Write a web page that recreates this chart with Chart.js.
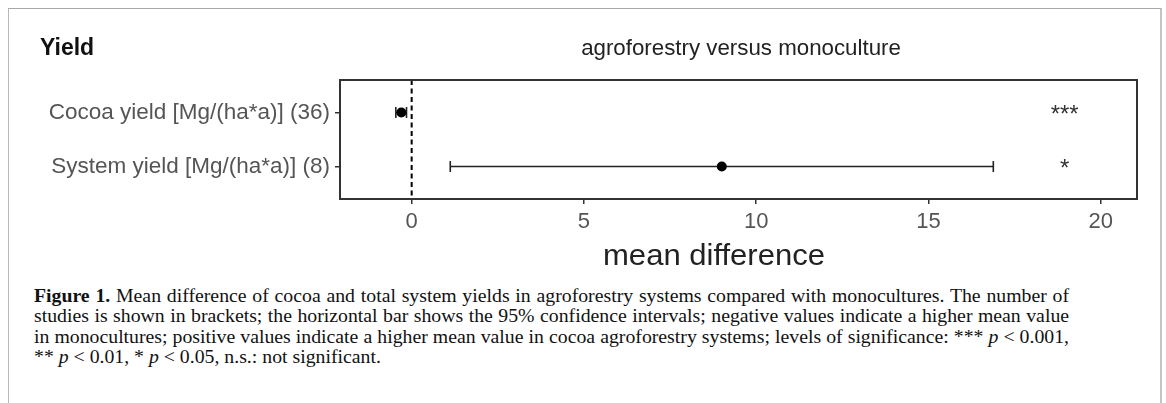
<!DOCTYPE html>
<html>
<head>
<meta charset="utf-8">
<script src="https://cdn.jsdelivr.net/npm/chart.js@4"></script>
<style>
  html, body { margin: 0; padding: 0; background: #fff; }
  body { width: 1166px; height: 403px; position: relative; overflow: hidden; }
  #frame { position: absolute; left: 8px; top: 8px; width: 1154px; height: 400px;
           border-top: 1.5px solid #a8a8a8; border-left: 1.5px solid #b8b8b8; border-right: 2px solid #c4c4c4; box-sizing: border-box; }
  #wrap { position: absolute; left: 0; top: 0; width: 1166px; height: 280px; }
  .ttl { position: absolute; font-family: "Liberation Sans", Arial, sans-serif; white-space: nowrap; line-height: 1; }
  #yield { left: 40px; top: 36px; font-size: 23px; font-weight: bold; color: #111; }
  #main { left: 741px; top: 37px; font-size: 22.3px; color: #222; transform: translateX(-50%); }
  #xtitle { left: 714px; top: 241px; font-size: 29px; color: #222; transform: translateX(-50%) scaleX(1.07); }
  #caption { position: absolute; left: 34px; top: 286px; font-family: "Liberation Serif", "Times New Roman", serif;
             font-size: 18px; color: #111; transform-origin: 0 0; }
  #caption .ln { white-space: nowrap; height: 20.3px; line-height: 20.3px; }
  #caption .j { text-align: justify; text-align-last: justify; }
</style>
</head>
<body>
<div id="frame"></div>
<div id="wrap"><canvas id="c" width="1166" height="280"></canvas></div>
<div class="ttl" id="yield">Yield</div>
<div class="ttl" id="main">agroforestry versus monoculture</div>
<div class="ttl" id="xtitle">mean difference</div>
<div id="caption">
  <div class="ln j"><b>Figure 1.</b> Mean difference of cocoa and total system yields in agroforestry systems compared with monocultures. The number of</div>
  <div class="ln j">studies is shown in brackets; the horizontal bar shows the 95% confidence intervals; negative values indicate a higher mean value</div>
  <div class="ln j">in monocultures; positive values indicate a higher mean value in cocoa agroforestry systems; levels of significance: *** <i>p</i> &lt; 0.001,</div>
  <div class="ln">** <i>p</i> &lt; 0.01, * <i>p</i> &lt; 0.05, n.s.: not significant.</div>
</div>
<script>
// ---- data ----
const categories = ['Cocoa yield [Mg/(ha*a)] (36)', 'System yield [Mg/(ha*a)] (8)'];
const meanDiff   = [-0.30, 9.0];
const ciLower    = [-0.46, 1.12];
const ciUpper    = [-0.15, 16.88];
const signif     = ['***', '*'];
const xTicks     = [0, 5, 10, 15, 20];

// ---- caption fit: condense serif text so justified lines span 1035px ----
(function () {
  const cap = document.getElementById('caption');
  const lines = Array.from(cap.querySelectorAll('.j'));
  let maxW = 0;
  lines.forEach(l => {
    const s = document.createElement('span');
    s.innerHTML = l.innerHTML;
    s.style.whiteSpace = 'nowrap';
    l.innerHTML = ''; l.appendChild(s);
    maxW = Math.max(maxW, s.getBoundingClientRect().width);
    l.innerHTML = s.innerHTML;
  });
  const k = 1035 / (maxW + 2);
  lines.forEach(l => { l.style.width = (1035 / k) + 'px'; });
  cap.style.transform = 'scaleX(' + k.toFixed(4) + ')';
})();

const rowPos = categories.map((_, i) => i + 1);

const datasets = [];
// zero reference line
datasets.push({
  data: [{x: 0, y: 0.4}, {x: 0, y: 2.6}],
  showLine: true, borderColor: '#000', borderWidth: 2, borderDash: [5, 3.5],
  pointRadius: 0, order: 3
});
// confidence intervals
categories.forEach((c, i) => {
  datasets.push({
    data: [{x: ciLower[i], y: rowPos[i]}, {x: ciUpper[i], y: rowPos[i]}],
    showLine: true, borderColor: '#222', borderWidth: 1.6,
    pointStyle: 'line', rotation: 90, pointRadius: 5.5,
    pointBorderColor: '#222', pointBorderWidth: 1.6, order: 2
  });
});
// means
datasets.push({
  data: meanDiff.map((v, i) => ({x: v, y: rowPos[i]})),
  pointStyle: 'circle', pointRadius: 5, pointBackgroundColor: '#000',
  pointBorderColor: '#000', pointBorderWidth: 0, order: 1
});

const panelBox = {
  id: 'panelBox',
  afterDatasetsDraw(chart) {
    const {ctx, chartArea: a} = chart;
    ctx.save();
    ctx.strokeStyle = '#333';
    ctx.lineWidth = 2;
    ctx.strokeRect(a.left, a.top, a.right - a.left, a.bottom - a.top);
    ctx.restore();
  }
};
const sigLabels = {
  id: 'sigLabels',
  afterDatasetsDraw(chart, args, opts) {
    const {ctx, scales: {x, y}} = chart;
    ctx.save();
    ctx.fillStyle = '#333';
    ctx.font = '24px "Liberation Sans", Arial, sans-serif';
    ctx.textAlign = 'center';
    ctx.textBaseline = 'middle';
    signif.forEach((s, i) => ctx.fillText(s, x.getPixelForValue(opts.at), y.getPixelForValue(rowPos[i]) + 3));
    ctx.restore();
  }
};

new Chart(document.getElementById('c'), {
  type: 'scatter',
  data: { datasets },
  plugins: [panelBox, sigLabels],
  options: {
    responsive: false, animation: false,
    layout: { padding: { left: 0, right: 29, top: 80, bottom: 0 } },
    plugins: { legend: { display: false }, tooltip: { enabled: false }, sigLabels: { at: 18.95 } },
    scales: {
      x: {
        type: 'linear', min: -2.08, max: 21.05,
        afterBuildTicks: s => { s.ticks = xTicks.map(v => ({value: v})); },
        afterFit: s => { s.height = 81; },
        grid: { drawOnChartArea: false, drawTicks: true, tickLength: 5, color: '#333', lineWidth: 1.5 },
        border: { display: true, color: '#333', width: 2 },
        ticks: { color: '#555', padding: 5, font: { family: '"Liberation Sans", Arial, sans-serif', size: 22 }, maxRotation: 0 }
      },
      y: {
        type: 'linear', reverse: true, min: 0.4, max: 2.6,
        afterBuildTicks: s => { s.ticks = rowPos.map(v => ({value: v})); },
        afterFit: s => { s.width = 340; },
        grid: { drawOnChartArea: false, drawTicks: true, tickLength: 5, color: '#333', lineWidth: 1.5 },
        border: { display: true, color: '#333', width: 2 },
        ticks: { color: '#555', padding: 5, callback: v => categories[v - 1],
                 font: { family: '"Liberation Sans", Arial, sans-serif', size: 22.5 } }
      }
    }
  }
});
</script>
</body>
</html>
